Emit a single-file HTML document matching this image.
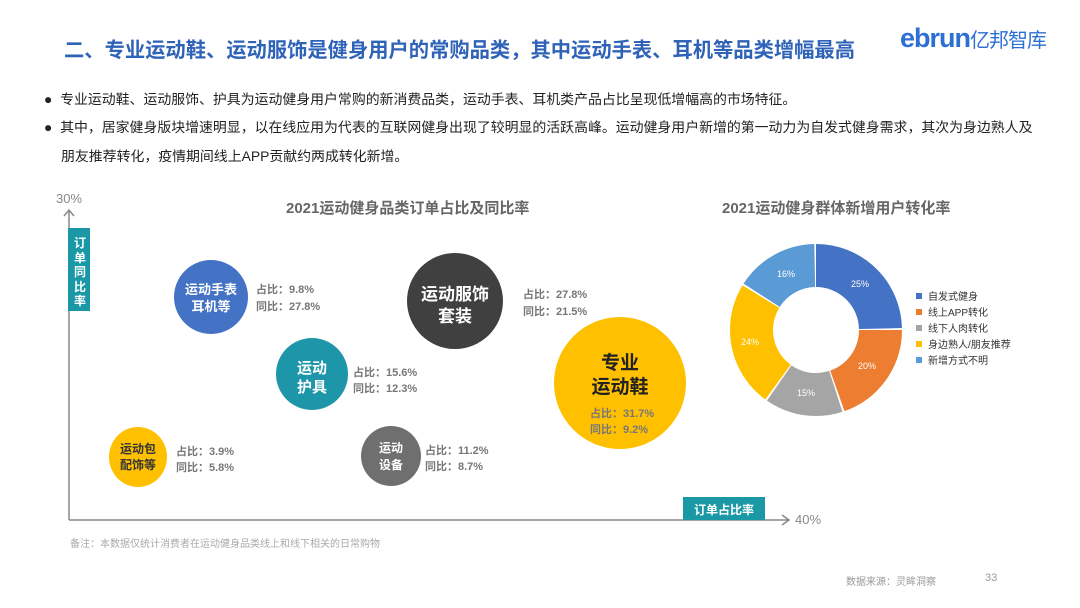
<!DOCTYPE html>
<html><head><meta charset="utf-8"><style>
html,body{margin:0;padding:0;background:#fff;}
body{width:1080px;height:608px;position:relative;overflow:hidden;font-family:"Liberation Sans","Noto Sans CJK SC",sans-serif;}
.a{position:absolute;white-space:nowrap;}
</style></head><body>
<div class="a" style="left:64px;top:33px;font-size:20.3px;font-weight:bold;color:#2f63b8;">二、专业运动鞋、运动服饰是健身用户的常购品类，其中运动手表、耳机等品类增幅最高</div>
<div class="a" style="left:900px;top:23px;font-size:27px;font-weight:bold;color:#2e6fd6;letter-spacing:-1px;">ebrun<span style="font-size:20px;font-weight:normal;letter-spacing:-1px;">亿邦智库</span></div>
<div class="a" style="left:44px;top:89px;font-size:13.9px;color:#222;">●&nbsp; 专业运动鞋、运动服饰、护具为运动健身用户常购的新消费品类，运动手表、耳机类产品占比呈现低增幅高的市场特征。</div>
<div class="a" style="left:44px;top:117px;font-size:13.9px;color:#222;">●&nbsp; 其中，居家健身版块增速明显，以在线应用为代表的互联网健身出现了较明显的活跃高峰。运动健身用户新增的第一动力为自发式健身需求，其次为身边熟人及</div>
<div class="a" style="left:61px;top:146px;font-size:13.9px;color:#222;">朋友推荐转化，疫情期间线上APP贡献约两成转化新增。</div>

<div class="a" style="left:56px;top:191px;font-size:13px;color:#888;">30%</div>
<div class="a" style="left:286px;top:197px;font-size:15px;font-weight:bold;color:#666;">2021运动健身品类订单占比及同比率</div>
<div class="a" style="left:722px;top:197px;font-size:15px;font-weight:bold;color:#666;">2021运动健身群体新增用户转化率</div>

<svg class="a" style="left:0;top:0" width="1080" height="608">
<g stroke="#888" stroke-width="1.5" fill="none">
<line x1="69" y1="210" x2="69" y2="520"/><polyline points="64,216 69,210 74,216"/>
<line x1="69" y1="520" x2="788" y2="520"/><polyline points="782,515 789,520 782,525"/>
</g>
<rect x="68" y="228" width="22" height="83" fill="#1a98a6"/>
<rect x="683" y="497" width="82" height="23" fill="#1a98a6"/>
<circle cx="211" cy="297" r="37" fill="#4472c4"/>
<circle cx="455" cy="301" r="48" fill="#404040"/>
<circle cx="620" cy="383" r="66" fill="#ffc000"/>
<circle cx="312" cy="374" r="36" fill="#1c96a8"/>
<ellipse cx="138" cy="457" rx="29" ry="30" fill="#ffc000"/>
<ellipse cx="391" cy="456" rx="30" ry="30" fill="#6f6f6f"/>
<g transform="translate(816,330) rotate(-90)" fill="none" stroke-width="43">
<circle r="64.5" stroke="#4472c4" stroke-dasharray="99.8 405.3" stroke-dashoffset="0"/>
<circle r="64.5" stroke="#ed7d31" stroke-dasharray="79.5 405.3" stroke-dashoffset="-101.3"/>
<circle r="64.5" stroke="#a5a5a5" stroke-dasharray="59.3 405.3" stroke-dashoffset="-182.4"/>
<circle r="64.5" stroke="#ffc000" stroke-dasharray="95.8 405.3" stroke-dashoffset="-243.2"/>
<circle r="64.5" stroke="#5b9bd5" stroke-dasharray="63.3 405.3" stroke-dashoffset="-340.5"/>
</g>
<g font-size="9" fill="#fff" text-anchor="middle">
<text x="860" y="287">25%</text><text x="867" y="369">20%</text><text x="806" y="396">15%</text><text x="750" y="345">24%</text><text x="786" y="277">16%</text>
</g>
<g font-size="10" fill="#333">
<rect x="916" y="293" width="6" height="6" fill="#4472c4"/><text x="928" y="300">自发式健身</text>
<rect x="916" y="309" width="6" height="6" fill="#ed7d31"/><text x="928" y="316">线上APP转化</text>
<rect x="916" y="325" width="6" height="6" fill="#a5a5a5"/><text x="928" y="332">线下人肉转化</text>
<rect x="916" y="341" width="6" height="6" fill="#ffc000"/><text x="928" y="348">身边熟人/朋友推荐</text>
<rect x="916" y="357" width="6" height="6" fill="#5b9bd5"/><text x="928" y="364">新增方式不明</text>
</g>
</svg>

<div class="a" style="left:71px;top:236px;width:18px;font-size:12px;font-weight:bold;color:#fff;line-height:14.5px;white-space:normal;text-align:center;">订单同比率</div>
<div class="a" style="left:683px;top:501px;width:82px;text-align:center;font-size:12px;font-weight:bold;color:#fff;">订单占比率</div>
<div class="a" style="left:795px;top:512px;font-size:13px;color:#888;">40%</div>

<div class="a" style="left:174px;top:281px;width:74px;text-align:center;font-size:13px;font-weight:bold;color:#fff;line-height:17px;">运动手表<br>耳机等</div>
<div class="a" style="left:256px;top:282px;font-size:11px;font-weight:bold;color:#777;line-height:17px;">占比：9.8%<br>同比：27.8%</div>
<div class="a" style="left:407px;top:284px;width:96px;text-align:center;font-size:17px;font-weight:bold;color:#fff;line-height:22px;">运动服饰<br>套装</div>
<div class="a" style="left:523px;top:287px;font-size:11px;font-weight:bold;color:#777;line-height:17px;">占比：27.8%<br>同比：21.5%</div>
<div class="a" style="left:276px;top:359px;width:72px;text-align:center;font-size:15px;font-weight:bold;color:#fff;line-height:19px;">运动<br>护具</div>
<div class="a" style="left:353px;top:365px;font-size:11px;font-weight:bold;color:#777;line-height:16px;">占比：15.6%<br>同比：12.3%</div>
<div class="a" style="left:560px;top:352px;width:120px;text-align:center;font-size:19px;font-weight:bold;color:#222;line-height:24px;">专业<br>运动鞋</div>
<div class="a" style="left:590px;top:406px;font-size:11px;font-weight:bold;color:#777;line-height:16px;">占比：31.7%<br>同比：9.2%</div>
<div class="a" style="left:109px;top:441px;width:58px;text-align:center;font-size:12px;font-weight:bold;color:#333;line-height:16px;">运动包<br>配饰等</div>
<div class="a" style="left:176px;top:444px;font-size:11px;font-weight:bold;color:#777;line-height:16px;">占比：3.9%<br>同比：5.8%</div>
<div class="a" style="left:361px;top:440px;width:60px;text-align:center;font-size:12px;font-weight:bold;color:#fff;line-height:17px;">运动<br>设备</div>
<div class="a" style="left:425px;top:443px;font-size:11px;font-weight:bold;color:#777;line-height:16px;">占比：11.2%<br>同比：8.7%</div>

<div class="a" style="left:70px;top:535px;font-size:10px;color:#aaa;">备注：本数据仅统计消费者在运动健身品类线上和线下相关的日常购物</div>
<div class="a" style="left:846px;top:573px;font-size:10px;color:#999;">数据来源：灵眸洞察</div>
<div class="a" style="left:985px;top:572px;font-size:11px;color:#999;">33</div>
</body></html>
